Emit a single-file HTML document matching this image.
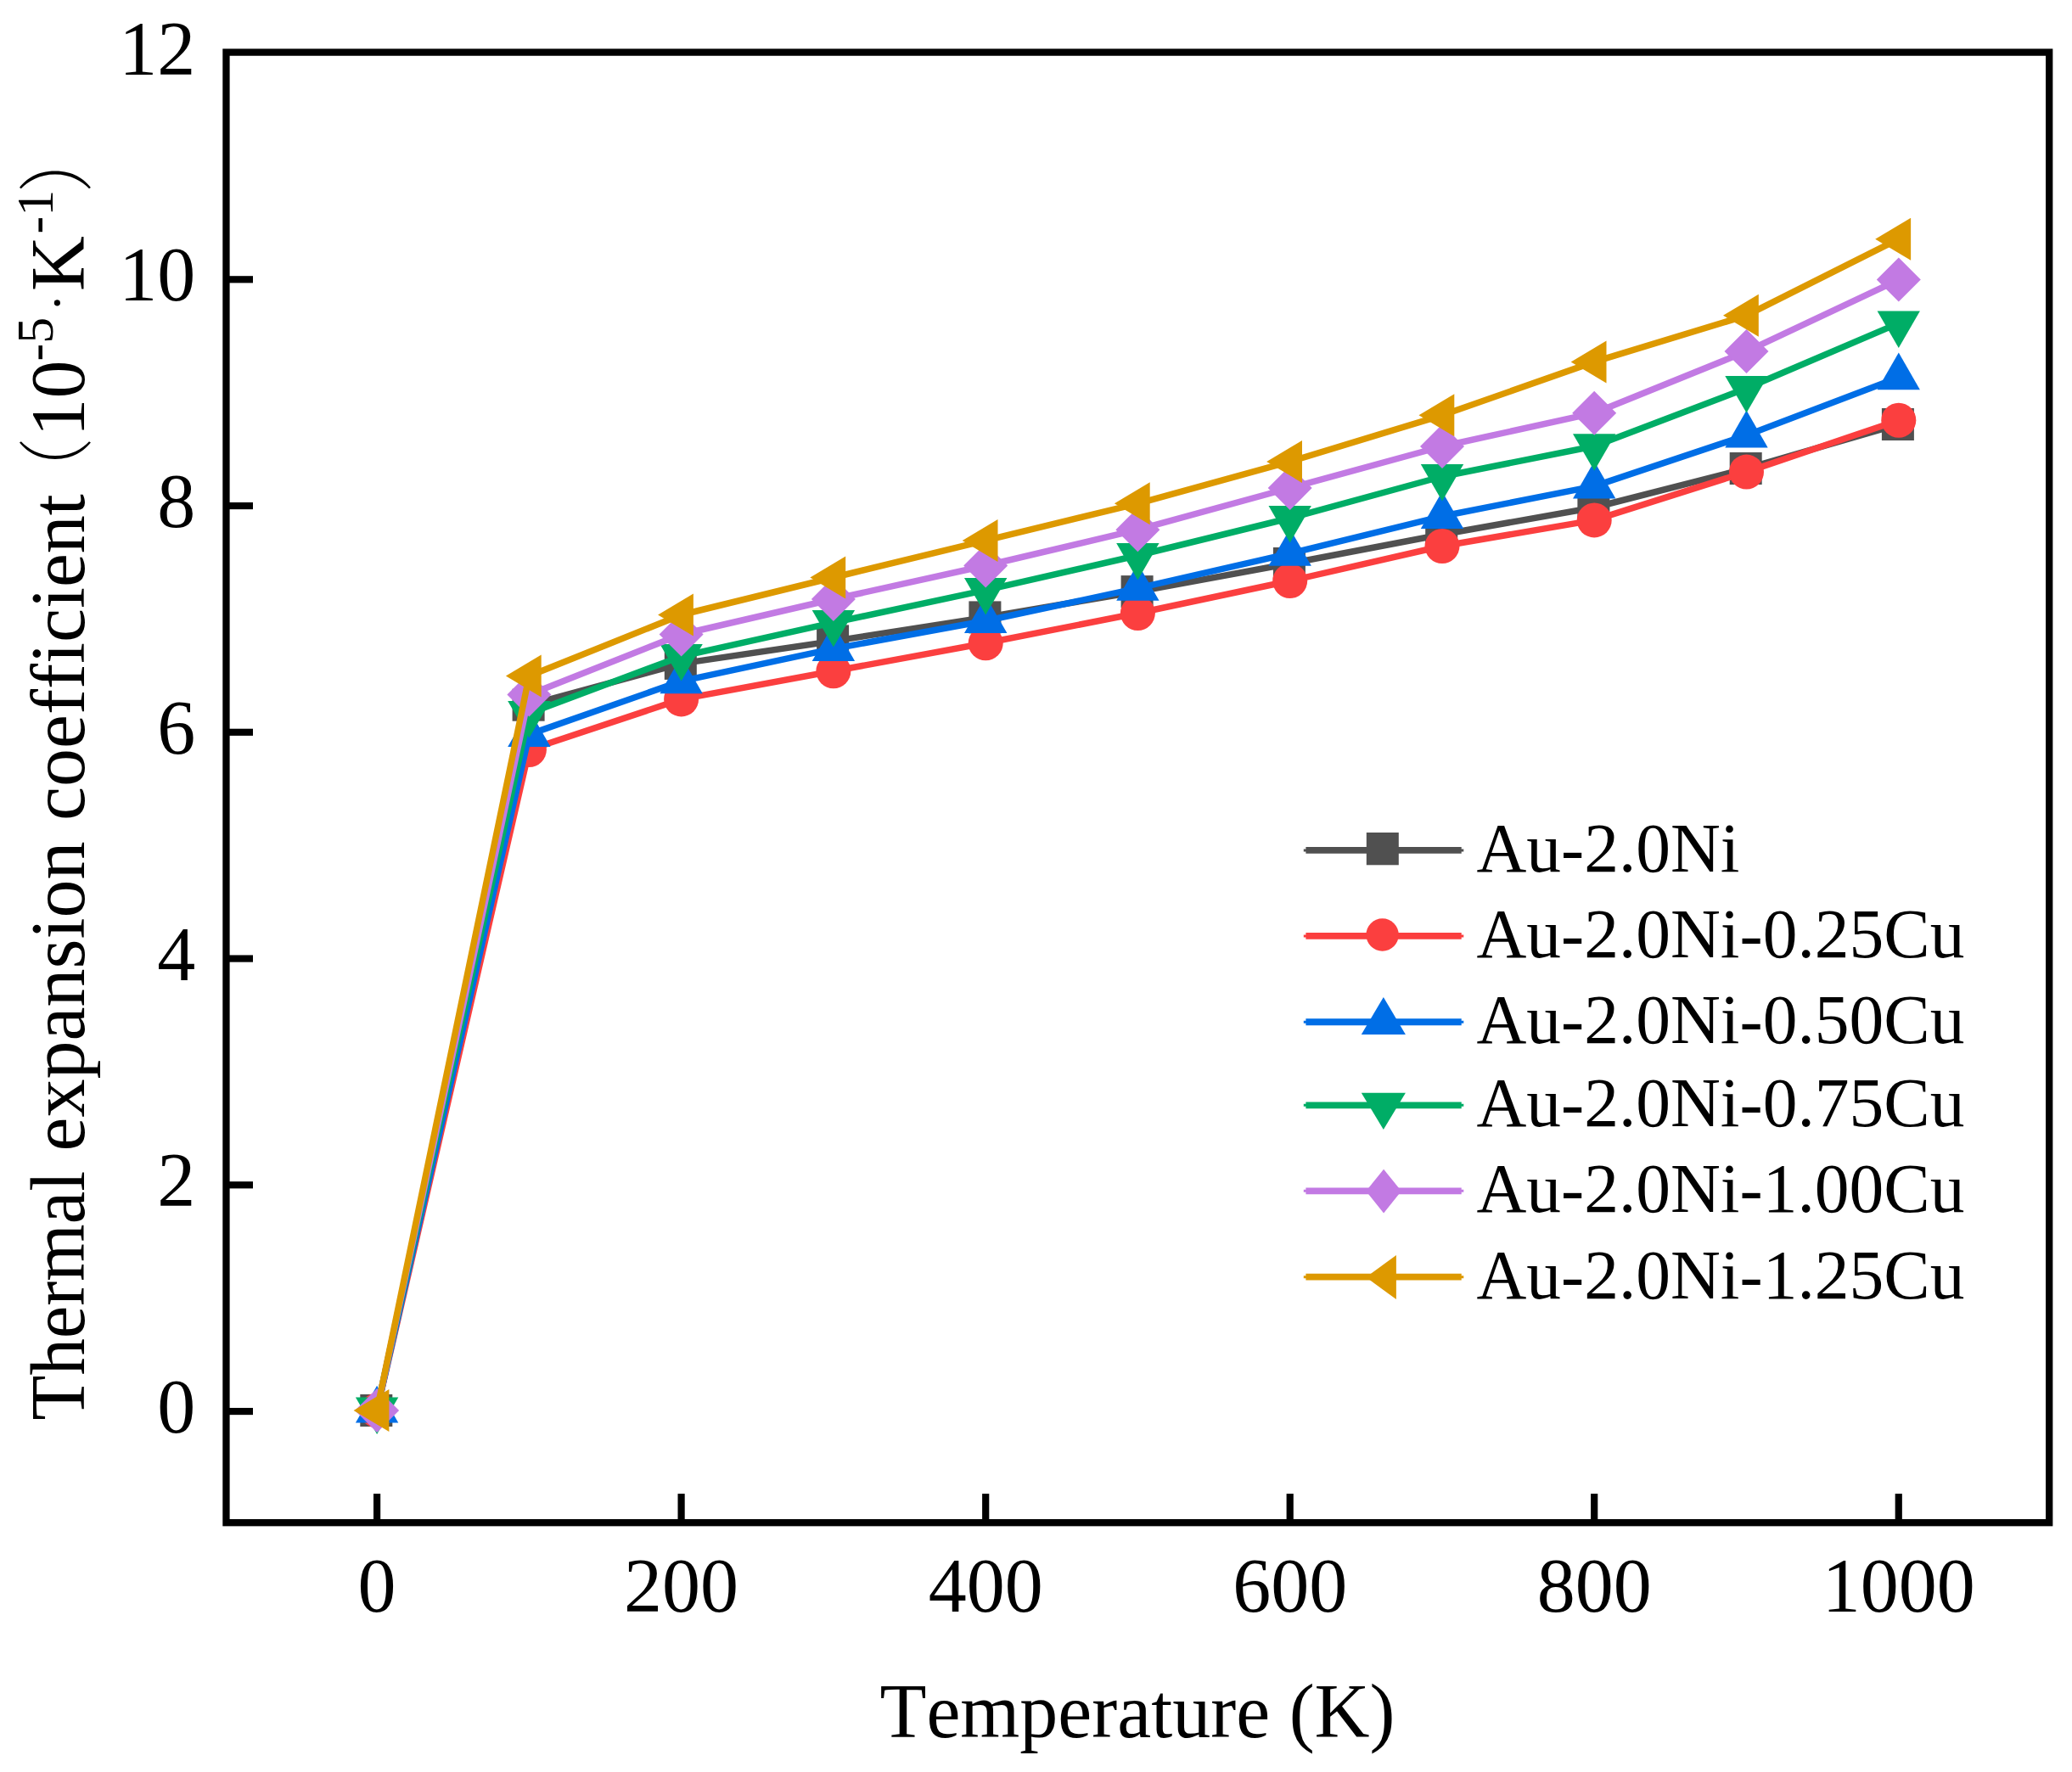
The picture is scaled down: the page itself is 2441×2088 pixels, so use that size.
<!DOCTYPE html>
<html lang="en"><head><meta charset="utf-8"><title>Thermal expansion coefficient</title>
<style>
html,body{margin:0;padding:0;background:#fff;}
body{width:2441px;height:2088px;overflow:hidden;}
svg{display:block;}
text{font-family:"Liberation Serif","Noto Serif CJK SC",serif;fill:#000;font-variant-ligatures:none;font-kerning:none;}
.tk{font-size:90px;}
.lg{font-size:81.5px;}
.ax{font-size:90px;}
.sup{font-size:62px;}
.pn{font-weight:200;font-size:90px;}
</style></head><body>
<svg width="2441" height="2088" viewBox="0 0 2441 2088">
<rect x="0" y="0" width="2441" height="2088" fill="#fff"/>
<rect x="266.45" y="61.6" width="2147.75" height="1732.6" fill="none" stroke="#000" stroke-width="8.3"/>
<g stroke="#000" stroke-width="8.2" fill="none">
<line x1="444.1" y1="1760.1" x2="444.1" y2="1794"/>
<line x1="802.6" y1="1760.1" x2="802.6" y2="1794"/>
<line x1="1161.2" y1="1760.1" x2="1161.2" y2="1794"/>
<line x1="1519.7" y1="1760.1" x2="1519.7" y2="1794"/>
<line x1="1878.2" y1="1760.1" x2="1878.2" y2="1794"/>
<line x1="2236.75" y1="1760.1" x2="2236.75" y2="1794"/>
<line x1="266" y1="1663.05" x2="298" y2="1663.05"/>
<line x1="266" y1="1396.3" x2="298" y2="1396.3"/>
<line x1="266" y1="1129.55" x2="298" y2="1129.55"/>
<line x1="266" y1="862.8" x2="298" y2="862.8"/>
<line x1="266" y1="596.05" x2="298" y2="596.05"/>
<line x1="266" y1="329.3" x2="298" y2="329.3"/>
</g>
<g class="tk" text-anchor="middle">
<text x="444.1" y="1899">0</text>
<text x="802.6" y="1899">200</text>
<text x="1161.2" y="1899">400</text>
<text x="1519.7" y="1899">600</text>
<text x="1878.2" y="1899">800</text>
<text x="2236.75" y="1899">1000</text>
</g>
<g class="tk" text-anchor="end">
<text x="230.3" y="1688.0">0</text>
<text x="230.3" y="1421.3">2</text>
<text x="230.3" y="1154.5">4</text>
<text x="230.3" y="887.8">6</text>
<text x="230.3" y="621.0">8</text>
<text x="230.3" y="354.3">10</text>
<text x="230.3" y="87.5">12</text>
</g>
<text class="ax" x="1340" y="2046.6" text-anchor="middle">Temperature (K)</text>
<g transform="translate(98.5,1673.5) rotate(-90)">
<text class="ax" x="0" y="0" textLength="293.8" lengthAdjust="spacingAndGlyphs">Thermal</text>
<text class="ax" x="317" y="0">expansion</text>
<text class="ax" x="706.6" y="0">coefficient</text>
<text class="pn" transform="translate(1084.3,0) scale(0.82,1)" x="0" y="0">（</text>
<text class="ax" x="1159" y="0">10</text>
<text class="sup" x="1248" y="-36.8">-5</text>
<text class="sup" x="1306.2" y="-10.8">·</text>
<text class="ax" x="1330.5" y="0">K</text>
<text class="sup" x="1398" y="-36.8">-1</text>
<text class="pn" transform="translate(1446.6,0) scale(0.82,1)" x="0" y="0">）</text>
</g>
<g><polyline points="444.1,1662.0 623.4,830.7 802.6,781.9 981.9,755.4 1161.2,727.4 1340.4,697.1 1519.7,664.0 1699.0,629.7 1878.2,598.0 2057.5,552.0 2236.8,500.0" fill="none" stroke="#505050" stroke-width="7.5" stroke-linejoin="round"/>
<rect x="424.3" y="1643.0" width="38" height="38" fill="#505050"/>
<rect x="603.6" y="811.7" width="38" height="38" fill="#505050"/>
<rect x="782.8" y="762.9" width="38" height="38" fill="#505050"/>
<rect x="962.1" y="736.4" width="38" height="38" fill="#505050"/>
<rect x="1141.4" y="708.4" width="38" height="38" fill="#505050"/>
<rect x="1320.6" y="678.1" width="38" height="38" fill="#505050"/>
<rect x="1499.9" y="645.0" width="38" height="38" fill="#505050"/>
<rect x="1679.2" y="610.7" width="38" height="38" fill="#505050"/>
<rect x="1858.4" y="579.0" width="38" height="38" fill="#505050"/>
<rect x="2037.7" y="533.0" width="38" height="38" fill="#505050"/>
<rect x="2216.9" y="481.0" width="38" height="38" fill="#505050"/>
</g>
<g><polyline points="444.1,1662.0 623.4,883.5 802.6,823.9 981.9,790.7 1161.2,757.8 1340.4,722.5 1519.7,684.5 1699.0,643.5 1878.2,612.9 2057.5,556.1 2236.8,495.2" fill="none" stroke="#fb3f3f" stroke-width="7.5" stroke-linejoin="round"/>
<circle cx="444.1" cy="1662.0" r="20.5" fill="#fb3f3f"/>
<circle cx="623.4" cy="883.5" r="20.5" fill="#fb3f3f"/>
<circle cx="802.6" cy="823.9" r="20.5" fill="#fb3f3f"/>
<circle cx="981.9" cy="790.7" r="20.5" fill="#fb3f3f"/>
<circle cx="1161.2" cy="757.8" r="20.5" fill="#fb3f3f"/>
<circle cx="1340.4" cy="722.5" r="20.5" fill="#fb3f3f"/>
<circle cx="1519.7" cy="684.5" r="20.5" fill="#fb3f3f"/>
<circle cx="1699.0" cy="643.5" r="20.5" fill="#fb3f3f"/>
<circle cx="1878.2" cy="612.9" r="20.5" fill="#fb3f3f"/>
<circle cx="2057.5" cy="556.1" r="20.5" fill="#fb3f3f"/>
<circle cx="2236.8" cy="495.2" r="20.5" fill="#fb3f3f"/>
</g>
<g><polyline points="444.1,1662.0 623.4,865.4 802.6,802.6 981.9,764.4 1161.2,731.5 1340.4,693.2 1519.7,652.1 1699.0,608.3 1878.2,572.9 2057.5,512.9 2236.8,444.7" fill="none" stroke="#006ee6" stroke-width="7.5" stroke-linejoin="round"/>
<polygon points="418.9,1676.6 469.3,1676.6 444.1,1632.7" fill="#006ee6"/>
<polygon points="598.2,880.0 648.6,880.0 623.4,836.1" fill="#006ee6"/>
<polygon points="777.4,817.2 827.8,817.2 802.6,773.3" fill="#006ee6"/>
<polygon points="956.7,779.0 1007.1,779.0 981.9,735.1" fill="#006ee6"/>
<polygon points="1136.0,746.1 1186.4,746.1 1161.2,702.2" fill="#006ee6"/>
<polygon points="1315.2,707.8 1365.6,707.8 1340.4,663.9" fill="#006ee6"/>
<polygon points="1494.5,666.8 1544.9,666.8 1519.7,622.9" fill="#006ee6"/>
<polygon points="1673.8,622.9 1724.2,622.9 1699.0,579.0" fill="#006ee6"/>
<polygon points="1853.0,587.5 1903.4,587.5 1878.2,543.6" fill="#006ee6"/>
<polygon points="2032.3,527.5 2082.7,527.5 2057.5,483.6" fill="#006ee6"/>
<polygon points="2211.6,459.3 2261.9,459.3 2236.8,415.4" fill="#006ee6"/>
</g>
<g><polyline points="444.1,1661.0 623.4,840.4 802.6,773.4 981.9,733.6 1161.2,695.4 1340.4,654.5 1519.7,610.5 1699.0,561.5 1878.2,525.8 2057.5,457.5 2236.8,380.9" fill="none" stroke="#00ad66" stroke-width="7.5" stroke-linejoin="round"/>
<polygon points="418.9,1646.5 469.3,1646.5 444.1,1690.0" fill="#00ad66"/>
<polygon points="598.2,825.9 648.6,825.9 623.4,869.4" fill="#00ad66"/>
<polygon points="777.4,758.9 827.8,758.9 802.6,802.4" fill="#00ad66"/>
<polygon points="956.7,719.1 1007.1,719.1 981.9,762.6" fill="#00ad66"/>
<polygon points="1136.0,680.9 1186.4,680.9 1161.2,724.4" fill="#00ad66"/>
<polygon points="1315.2,640.0 1365.6,640.0 1340.4,683.5" fill="#00ad66"/>
<polygon points="1494.5,596.0 1544.9,596.0 1519.7,639.5" fill="#00ad66"/>
<polygon points="1673.8,547.0 1724.2,547.0 1699.0,590.5" fill="#00ad66"/>
<polygon points="1853.0,511.3 1903.4,511.3 1878.2,554.8" fill="#00ad66"/>
<polygon points="2032.3,443.0 2082.7,443.0 2057.5,486.5" fill="#00ad66"/>
<polygon points="2211.6,366.4 2261.9,366.4 2236.8,409.9" fill="#00ad66"/>
</g>
<g><polyline points="444.1,1662.0 623.4,818.5 802.6,747.5 981.9,706.0 1161.2,666.5 1340.4,624.2 1519.7,575.0 1699.0,526.0 1878.2,486.7 2057.5,414.1 2236.8,329.6" fill="none" stroke="#c27ae3" stroke-width="7.5" stroke-linejoin="round"/>
<polygon points="418.1,1662.0 444.1,1636.0 470.1,1662.0 444.1,1688.0" fill="#c27ae3"/>
<polygon points="597.4,818.5 623.4,792.5 649.4,818.5 623.4,844.5" fill="#c27ae3"/>
<polygon points="776.6,747.5 802.6,721.5 828.6,747.5 802.6,773.5" fill="#c27ae3"/>
<polygon points="955.9,706.0 981.9,680.0 1007.9,706.0 981.9,732.0" fill="#c27ae3"/>
<polygon points="1135.2,666.5 1161.2,640.5 1187.2,666.5 1161.2,692.5" fill="#c27ae3"/>
<polygon points="1314.4,624.2 1340.4,598.2 1366.4,624.2 1340.4,650.2" fill="#c27ae3"/>
<polygon points="1493.7,575.0 1519.7,549.0 1545.7,575.0 1519.7,601.0" fill="#c27ae3"/>
<polygon points="1673.0,526.0 1699.0,500.0 1725.0,526.0 1699.0,552.0" fill="#c27ae3"/>
<polygon points="1852.2,486.7 1878.2,460.7 1904.2,486.7 1878.2,512.7" fill="#c27ae3"/>
<polygon points="2031.5,414.1 2057.5,388.1 2083.5,414.1 2057.5,440.1" fill="#c27ae3"/>
<polygon points="2210.8,329.6 2236.8,303.6 2262.8,329.6 2236.8,355.6" fill="#c27ae3"/>
</g>
<g><polyline points="444.1,1662.0 623.4,796.6 802.6,724.5 981.9,680.5 1161.2,636.9 1340.4,593.3 1519.7,543.9 1699.0,489.3 1878.2,426.4 2057.5,371.7 2236.8,281.7" fill="none" stroke="#dd9900" stroke-width="7.5" stroke-linejoin="round"/>
<polygon points="416.6,1662.0 458.4,1637.0 458.4,1687.0" fill="#dd9900"/>
<polygon points="595.9,796.6 637.7,771.6 637.7,821.6" fill="#dd9900"/>
<polygon points="775.1,724.5 816.9,699.5 816.9,749.5" fill="#dd9900"/>
<polygon points="954.4,680.5 996.2,655.5 996.2,705.5" fill="#dd9900"/>
<polygon points="1133.7,636.9 1175.5,611.9 1175.5,661.9" fill="#dd9900"/>
<polygon points="1312.9,593.3 1354.7,568.3 1354.7,618.3" fill="#dd9900"/>
<polygon points="1492.2,543.9 1534.0,518.9 1534.0,568.9" fill="#dd9900"/>
<polygon points="1671.5,489.3 1713.3,464.3 1713.3,514.3" fill="#dd9900"/>
<polygon points="1850.7,426.4 1892.5,401.4 1892.5,451.4" fill="#dd9900"/>
<polygon points="2030.0,371.7 2071.8,346.7 2071.8,396.7" fill="#dd9900"/>
<polygon points="2209.2,281.7 2251.1,256.7 2251.1,306.7" fill="#dd9900"/>
</g>
<g>
<line x1="1538.4" y1="1001.9" x2="1721.7" y2="1001.9" stroke="#505050" stroke-width="7.9"/><line x1="1535.8" y1="1001.9" x2="1724.3" y2="1001.9" stroke="#505050" stroke-width="3"/>
<rect x="1609.8" y="981" width="38" height="38.3" fill="#505050"/>
<text class="lg" x="1739.4" y="1026.7">Au-2.0Ni</text>
<line x1="1538.4" y1="1102.9" x2="1721.7" y2="1102.9" stroke="#fb3f3f" stroke-width="7.9"/><line x1="1535.8" y1="1102.9" x2="1724.3" y2="1102.9" stroke="#fb3f3f" stroke-width="3"/>
<circle cx="1628.6" cy="1101.5" r="19.2" fill="#fb3f3f"/>
<text class="lg" x="1739.4" y="1127.7">Au-2.0Ni-0.25Cu</text>
<line x1="1538.4" y1="1204.2" x2="1721.7" y2="1204.2" stroke="#006ee6" stroke-width="7.9"/><line x1="1535.8" y1="1204.2" x2="1724.3" y2="1204.2" stroke="#006ee6" stroke-width="3"/>
<polygon points="1603.8,1218.9 1655.9,1218.9 1629.85,1175" fill="#006ee6"/>
<text class="lg" x="1739.4" y="1229.0">Au-2.0Ni-0.50Cu</text>
<line x1="1538.4" y1="1302.35" x2="1721.7" y2="1302.35" stroke="#00ad66" stroke-width="7.9"/><line x1="1535.8" y1="1302.35" x2="1724.3" y2="1302.35" stroke="#00ad66" stroke-width="3"/>
<polygon points="1603.8,1287.7 1655.9,1287.7 1629.85,1331.1" fill="#00ad66"/>
<text class="lg" x="1739.4" y="1327.1">Au-2.0Ni-0.75Cu</text>
<line x1="1538.4" y1="1403.35" x2="1721.7" y2="1403.35" stroke="#c27ae3" stroke-width="7.9"/><line x1="1535.8" y1="1403.35" x2="1724.3" y2="1403.35" stroke="#c27ae3" stroke-width="3"/>
<polygon points="1609.3,1403.55 1630.1,1377.7 1650.9,1403.55 1630.1,1429.4" fill="#c27ae3"/>
<text class="lg" x="1739.4" y="1428.1">Au-2.0Ni-1.00Cu</text>
<line x1="1538.4" y1="1504.65" x2="1721.7" y2="1504.65" stroke="#dd9900" stroke-width="7.9"/><line x1="1535.8" y1="1504.65" x2="1724.3" y2="1504.65" stroke="#dd9900" stroke-width="3"/>
<polygon points="1609.3,1505 1644.9,1478.9 1644.9,1531.1" fill="#dd9900"/>
<text class="lg" x="1739.4" y="1529.5">Au-2.0Ni-1.25Cu</text>
</g>
</svg></body></html>
